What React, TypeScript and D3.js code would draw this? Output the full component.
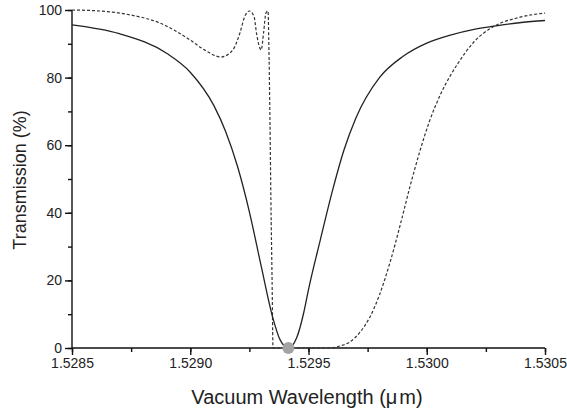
import React, { useRef, useEffect } from 'react';
import * as d3 from 'd3';

// solid curve: wavelength (um) and transmission (%)
const solidWl = [
  1.5285, 1.5287, 1.5289, 1.529, 1.5291, 1.52915, 1.5292, 1.52925, 1.5293,
  1.52935, 1.52938, 1.529415, 1.52945, 1.52948, 1.5295, 1.52955, 1.5296,
  1.52965, 1.5297, 1.5298, 1.5299, 1.53, 1.5301, 1.5302, 1.5303, 1.5304, 1.5305,
];
const solidT = [
  95.6, 93.0, 87.2, 81.6, 71.7, 64.0, 53.7, 40.3, 24.2,
  8.7, 2.4, 0, 3.0, 10.5, 17.3, 32.0, 46.2,
  58.6, 68.0, 80.0, 86.3, 90.2, 92.6, 94.3, 95.4, 96.3, 96.9,
];

// dashed curve: wavelength (um) and transmission (%)
const dashedWl = [
  1.5285, 1.52862, 1.52875, 1.52887, 1.529, 1.52906, 1.52913, 1.52918, 1.52921,
  1.52923, 1.52925, 1.52927, 1.52928, 1.5293, 1.52931, 1.52932, 1.529329,
  1.529332, 1.529337, 1.529341, 1.529346, 1.52935, 1.52946, 1.52959, 1.529633,
  1.529675, 1.529718, 1.52976, 1.5298, 1.529845, 1.52989, 1.52993, 1.52997,
  1.53001, 1.53006, 1.53013, 1.5302, 1.53028, 1.53039, 1.5305,
];
const dashedT = [
  100, 99.7, 98.5, 96.2, 91.1, 88.2, 86.1, 88.2, 93.2,
  98.0, 99.7, 98.0, 93.2, 88.2, 93.2, 99.1, 99.7,
  91.1, 67.5, 43.8, 20.1, 0, 0, 0, 0.6,
  1.8, 4.7, 9.2, 15.7, 25.4, 37.0, 48.0, 58.0,
  66.8, 75.3, 84.0, 90.6, 95.0, 97.8, 99.1,
];

const xTicks = [1.5285, 1.529, 1.5295, 1.53, 1.5305];
const yTicks = [0, 20, 40, 60, 80, 100];
const markerWl = 1.529415;
const markerT = 0;

const Chart = () => {
  const chartRef = useRef<SVGSVGElement | null>(null);

  useEffect(() => {
    const width = 567;
    const height = 413;
    const margin = { top: 10, right: 22, bottom: 65, left: 72 };
    const font = 'Arial, "Liberation Sans", Helvetica, sans-serif';

    const svg = d3.select(chartRef.current);
    svg.selectAll('*').remove();

    const x = d3
      .scaleLinear()
      .domain([1.5285, 1.5305])
      .range([margin.left, width - margin.right]);
    const y = d3
      .scaleLinear()
      .domain([0, 100])
      .range([height - margin.bottom, margin.top]);

    const xMinor = d3.range(1.5285, 1.53051, 0.00025);
    const yMinor = d3.range(0, 101, 10);

    // x axis
    const gx = svg
      .append('g')
      .attr('transform', `translate(0, ${y(0)})`)
      .call(
        d3
          .axisBottom(x)
          .tickValues(xMinor)
          .tickSize(4)
          .tickFormat(() => '')
      );
    gx.select('.domain').remove();
    svg
      .append('g')
      .attr('transform', `translate(0, ${y(0)})`)
      .call(
        d3
          .axisBottom(x)
          .tickValues(xTicks)
          .tickSize(7)
          .tickPadding(3)
          .tickFormat(d3.format('.4f'))
      )
      .call((g) => g.select('.domain').attr('d', `M${x.range()[0]},0H${x.range()[1]}`))
      .call((g) =>
        g
          .selectAll('text')
          .attr('font-family', font)
          .attr('font-size', '14px')
          .attr('fill', '#222')
      );

    // y axis
    const gy = svg
      .append('g')
      .attr('transform', `translate(${x(1.5285)}, 0)`)
      .call(
        d3
          .axisLeft(y)
          .tickValues(yMinor)
          .tickSize(4)
          .tickFormat(() => '')
      );
    gy.select('.domain').remove();
    svg
      .append('g')
      .attr('transform', `translate(${x(1.5285)}, 0)`)
      .call(d3.axisLeft(y).tickValues(yTicks).tickSize(7).tickPadding(3))
      .call((g) => g.select('.domain').attr('d', `M0,${y.range()[0]}V${y.range()[1]}`))
      .call((g) =>
        g
          .selectAll('text')
          .attr('font-family', font)
          .attr('font-size', '14px')
          .attr('fill', '#222')
      );

    svg
      .selectAll('.domain, .tick line')
      .attr('stroke', '#111')
      .attr('stroke-width', 1.4);

    // curves
    const line = d3
      .line<[number, number]>()
      .curve(d3.curveMonotoneX)
      .x((d) => x(d[0]))
      .y((d) => y(d[1]));

    svg
      .append('path')
      .datum(dashedWl.map((w, i) => [w, dashedT[i]] as [number, number]))
      .attr('fill', 'none')
      .attr('stroke', '#333')
      .attr('stroke-width', 1.2)
      .attr('stroke-dasharray', '3,2')
      .attr('d', line);

    svg
      .append('path')
      .datum(solidWl.map((w, i) => [w, solidT[i]] as [number, number]))
      .attr('fill', 'none')
      .attr('stroke', '#222')
      .attr('stroke-width', 1.3)
      .attr('d', line);

    svg
      .append('circle')
      .attr('cx', x(markerWl))
      .attr('cy', y(markerT))
      .attr('r', 6)
      .attr('fill', '#a3a3a3');

    // titles
    const xTitle = svg
      .append('text')
      .attr('x', 307)
      .attr('y', 404)
      .attr('text-anchor', 'middle')
      .attr('font-family', font)
      .attr('font-size', '20px')
      .attr('fill', '#222');
    xTitle.append('tspan').text('Vacuum Wavelength (\u03bc');
    xTitle.append('tspan').attr('dx', 2).text('m)');

    svg
      .append('text')
      .attr('transform', 'translate(26, 180) rotate(-90)')
      .attr('text-anchor', 'middle')
      .attr('font-family', font)
      .attr('font-size', '18px')
      .attr('fill', '#222')
      .text('Transmission (%)');
  }, []);

  return (
    <svg
      ref={chartRef}
      width={567}
      height={413}
      style={{ position: 'absolute', left: 0, top: 0, background: '#fff' }}
    />
  );
};

export default function App() {
  return <Chart />;
}
